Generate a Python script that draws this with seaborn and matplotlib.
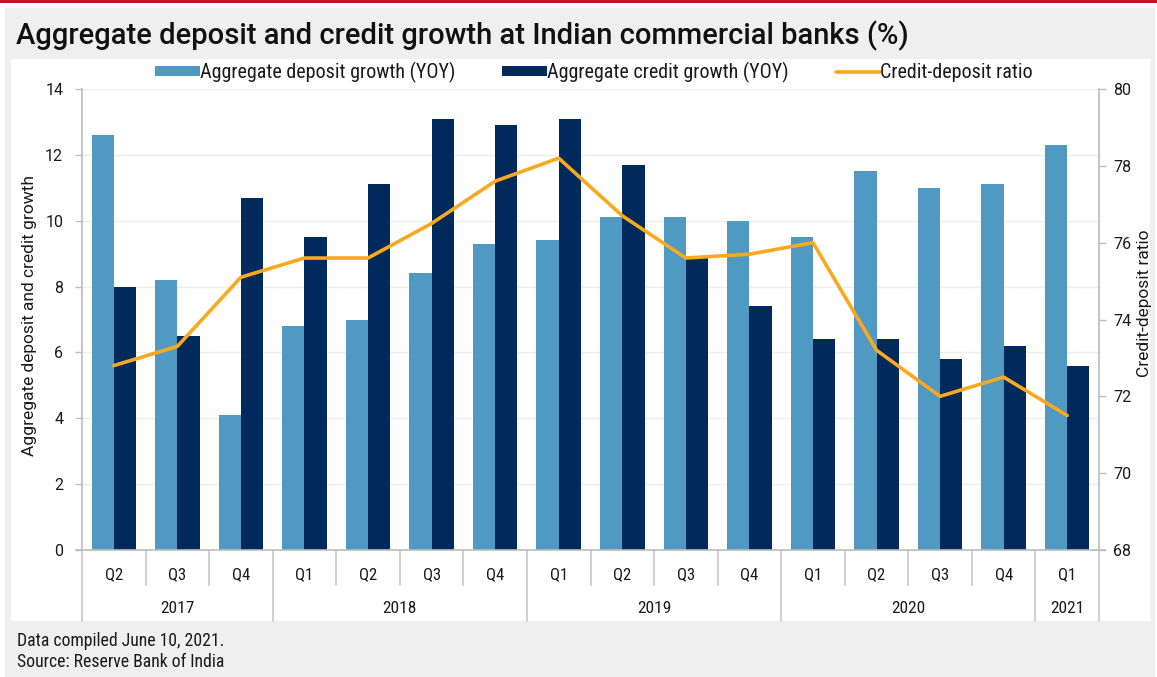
import matplotlib
matplotlib.use("Agg")
import matplotlib.pyplot as plt
from matplotlib.patches import Rectangle, Patch
from matplotlib.lines import Line2D
import numpy as np
import pandas as pd
import seaborn as sns

# Quarterly periods (2017 Q2 .. 2021 Q1)
quarters = ["Q2", "Q3", "Q4", "Q1", "Q2", "Q3", "Q4", "Q1", "Q2", "Q3", "Q4",
            "Q1", "Q2", "Q3", "Q4", "Q1"]
years = ["2017", "2017", "2017", "2018", "2018", "2018", "2018", "2019", "2019",
         "2019", "2019", "2020", "2020", "2020", "2020", "2021"]
year_labels = ["2017", "2018", "2019", "2020", "2021"]

# Year-on-year growth, %
deposit_growth = [12.6, 8.2, 4.1, 6.8, 7.0, 8.4, 9.3, 9.4, 10.1, 10.1, 10.0,
                  9.5, 11.5, 11.0, 11.1, 12.3]
credit_growth = [8.0, 6.5, 10.7, 9.5, 11.1, 13.1, 12.9, 13.1, 11.7, 8.9, 7.4,
                 6.4, 6.4, 5.8, 6.2, 5.6]
# Credit-deposit ratio, %
cd_ratio = [72.8, 73.3, 75.1, 75.6, 75.6, 76.5, 77.6, 78.2, 76.7, 75.6, 75.7,
            76.0, 73.2, 72.0, 72.5, 71.5]

series_names = ["Aggregate deposit growth (YOY)", "Aggregate credit growth (YOY)"]
ratio_name = "Credit-deposit ratio"

periods = [f"{y} {q}" for y, q in zip(years, quarters)]
bars = pd.DataFrame({
    "period": periods * 2,
    "series": [series_names[0]] * len(periods) + [series_names[1]] * len(periods),
    "value": deposit_growth + credit_growth,
})
line = pd.DataFrame({"period": periods, "ratio": cd_ratio})

LIGHT = "#4f99c3"
NAVY = "#002a5c"
ORANGE = "#f8a91f"
PANEL_BG = "#efefef"
TXT = "#1a1a1a"
WIDE = ["Roboto", "DejaVu Sans"]

sns.set_theme(style="white")
plt.rcParams["font.family"] = ["Roboto Condensed", "DejaVu Sans"]
plt.rcParams["text.color"] = TXT

W, H = 1157, 677
fig = plt.figure(figsize=(W / 100, H / 100), dpi=100, facecolor="white")


def px_box(x0, y0, x1, y1):
    return [x0 / W, 1 - y1 / H, (x1 - x0) / W, (y1 - y0) / H]


# Frame: red rule, grey card, white plotting panel
fig.patches.append(Rectangle((0, 1 - 3 / H), 1, 3 / H, transform=fig.transFigure,
                             facecolor="#c8102e", edgecolor="none", zorder=-3))
fig.patches.append(Rectangle((5 / W, 0), 1150 / W, 1 - 8 / H, transform=fig.transFigure,
                             facecolor=PANEL_BG, edgecolor="none", zorder=-2))
fig.patches.append(Rectangle((11 / W, 1 - 621 / H), 1139 / W, (621 - 59) / H,
                             transform=fig.transFigure, facecolor="white",
                             edgecolor="none", zorder=-1))

fig.text(16 / W, 1 - 36 / H, "Aggregate deposit and credit growth at Indian commercial banks (%)",
         fontsize=21, family=WIDE, fontweight="medium",
         va="center", ha="left", color="#111111")

ax = fig.add_axes(px_box(82, 89, 1099, 550))
ax.set_facecolor("none")

sns.barplot(data=bars, x="period", y="value", hue="series", order=periods,
            hue_order=series_names, palette=[LIGHT, NAVY], width=0.7,
            saturation=1, linewidth=0, legend=False, ax=ax, zorder=2)
ax.set_ylim(0, 14)
ax.set_yticks(np.arange(0, 15, 2))
ax.yaxis.grid(True, color="#eeeeee", linewidth=1)
ax.set_axisbelow(True)
ax.set_xlabel("")
ax.set_ylabel("")

ax2 = ax.twinx()
sns.pointplot(data=line, x="period", y="ratio", order=periods, color=ORANGE,
              markers="", linestyles="-", linewidth=2.6, ax=ax2)
ax2.set_ylim(68, 80)
ax2.set_yticks(np.arange(68, 81, 2))
ax2.set_xlim(-0.5, len(periods) - 0.5)
ax.set_xlim(-0.5, len(periods) - 0.5)
ax2.set_xlabel("")
ax2.set_ylabel("")
ax2.grid(False)

for a in (ax, ax2):
    for s in a.spines.values():
        s.set_visible(False)
    a.tick_params(axis="x", length=0, labelbottom=False, labeltop=False)
    a.tick_params(axis="y", length=5, width=1, color="#bdbdbd", labelsize=11.5,
                  labelcolor=TXT)
    for t in a.get_yticklabels():
        t.set_family(WIDE)
ax.spines["left"].set_visible(True)
ax.spines["left"].set_color("#bdbdbd")
ax2.spines["right"].set_visible(True)
ax2.spines["right"].set_color("#bdbdbd")
ax.tick_params(axis="y", left=True, right=False, pad=8.5)
ax2.tick_params(axis="y", right=True, left=False, pad=5)

# Axis titles
fig.text(30 / W, 1 - 315 / H, "Aggregate deposit and credit growth", rotation=90,
         ha="center", va="center", fontsize=12.5, family=WIDE, color=TXT)
fig.text(1145 / W, 1 - 303 / H, ratio_name, rotation=90,
         ha="center", va="center", fontsize=12.5, family=WIDE, color=TXT)

# Baseline across the plot including the outer tick stubs
xt = ax.get_xaxis_transform()
ax.plot([-0.6, len(periods) - 0.4], [0, 0], transform=xt, color="#bdbdbd",
        lw=1.2, clip_on=False, zorder=3)

# Two-level category axis: quarters, then years
q_y, yr_y = -0.053, -0.126
q_sep, yr_sep = -0.077, -0.153
for i, q in enumerate(quarters):
    ax.text(i, q_y, q, transform=xt, ha="center", va="center", fontsize=12,
            color=TXT)
bounds = [-0.5]
for i in range(1, len(years)):
    if years[i] != years[i - 1]:
        bounds.append(i - 0.5)
bounds.append(len(years) - 0.5)
for b in np.arange(-0.5, len(periods), 1.0):
    low = yr_sep if np.isclose(b, bounds).any() else q_sep
    ax.plot([b, b], [0, low], transform=xt, color="#cccccc", lw=1.3,
            clip_on=False)
for lab, b0, b1 in zip(year_labels, bounds[:-1], bounds[1:]):
    ax.text((b0 + b1) / 2, yr_y, lab, transform=xt, ha="center", va="center",
            fontsize=12.5, color=TXT)

handles = [
    Patch(facecolor=LIGHT, edgecolor="none"),
    Patch(facecolor=NAVY, edgecolor="none"),
    Line2D([], [], color=ORANGE, lw=2.6),
]
fig.legend(handles, series_names + [ratio_name], loc="center",
           bbox_to_anchor=(594 / W, 1 - 72 / H), ncol=3, frameon=False,
           fontsize=14.5, handlelength=2.2, handleheight=0.4, handletextpad=0.0,
           columnspacing=2.35)

fig.text(17 / W, 1 - 641 / H, "Data compiled June 10, 2021.", fontsize=12.7,
         va="center", ha="left", color=TXT)
fig.text(17 / W, 1 - 662 / H, "Source: Reserve Bank of India", fontsize=12.7,
         va="center", ha="left", color=TXT)

fig.savefig("out.png", dpi=100, facecolor="white")
